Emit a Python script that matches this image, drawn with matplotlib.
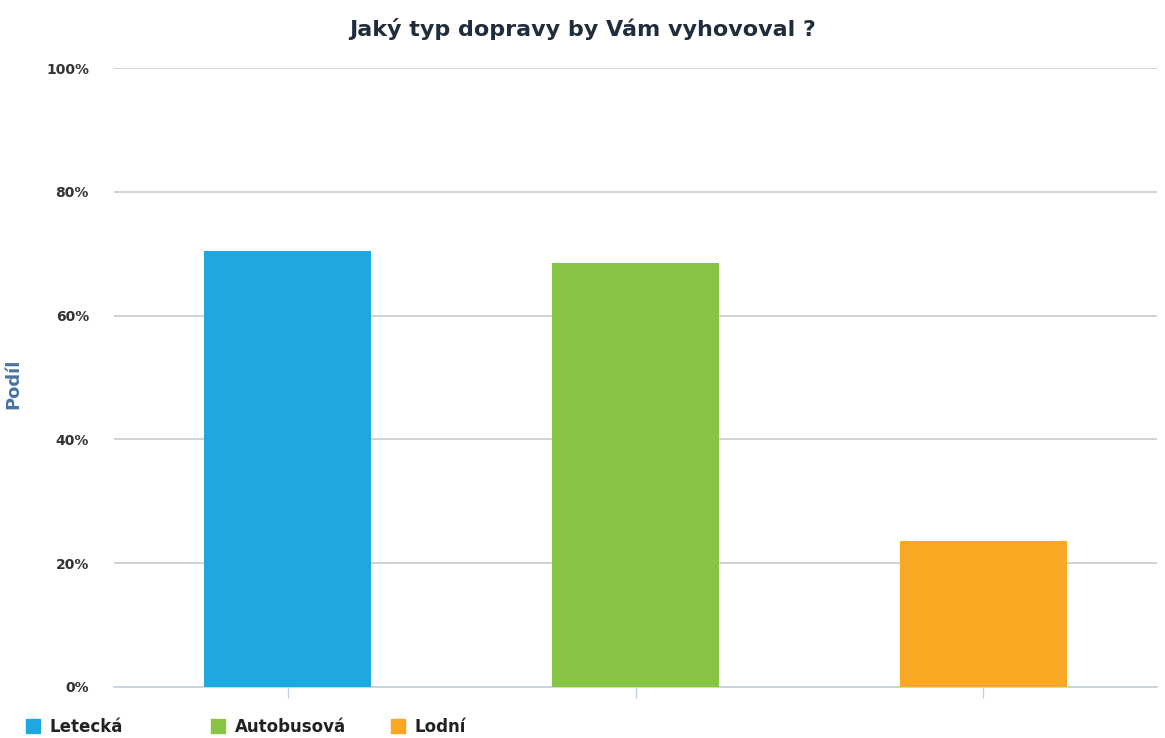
import matplotlib
matplotlib.use('Agg')
import matplotlib.pyplot as plt
from matplotlib.lines import Line2D
from matplotlib.ticker import PercentFormatter

categories = ['Letecká', 'Autobusová', 'Lodní']
shares = [70.4, 68.5, 23.6]
colors = ['#1fa8df', '#88c443', '#faa823']
y_ticks = [0, 20, 40, 60, 80, 100]

fig = plt.figure(figsize=(11.65, 7.38), dpi=100)
ax = fig.add_axes([114 / 1165, 51 / 738, 1043 / 1165, 619 / 738])

x = range(len(categories))
ax.bar(x, shares, width=0.48, color=colors, zorder=3)

ax.set_xlim(-0.5, len(categories) - 0.5)
ax.set_ylim(0, 100)
ax.set_yticks(y_ticks)
ax.yaxis.set_major_formatter(PercentFormatter(decimals=0))
ax.set_xticks(list(x))
ax.set_xticklabels([])

ax.grid(axis='y', color='#cccccc', linewidth=1.2, zorder=0)
for side in ['top', 'right', 'left']:
    ax.spines[side].set_visible(False)
ax.spines['bottom'].set_color('#c0d0e0')
ax.spines['bottom'].set_linewidth(1.2)
ax.tick_params(axis='x', length=8, color='#c0d0e0', width=1)
ax.tick_params(axis='y', length=0, pad=18, labelsize=10, labelcolor='#333333')
for lbl in ax.get_yticklabels():
    lbl.set_fontweight('bold')

ax.set_ylabel('Podíl', fontsize=13, fontweight='bold', color='#4a72a0')
ax.yaxis.set_label_coords(-0.088, 0.49)
fig.suptitle('Jaký typ dopravy by Vám vyhovoval ?', fontsize=16, fontweight='bold',
             color='#1f2d3d', y=0.975)

# legend items sit at fixed positions along the bottom edge
legend_x = [8 / 1165, 193 / 1165, 373 / 1165]
for cat, c, lx in zip(categories, colors, legend_x):
    h = Line2D([0], [0], marker='s', linestyle='', markersize=10,
               markerfacecolor=c, markeredgecolor=c, label=cat)
    leg = fig.legend(handles=[h], loc='center left', bbox_to_anchor=(lx, 11 / 738),
                     frameon=False, handletextpad=0.0, borderpad=0,
                     prop={'weight': 'bold', 'size': 12})
    leg.get_texts()[0].set_color('#222222')

fig.savefig('out.png', dpi=100)
